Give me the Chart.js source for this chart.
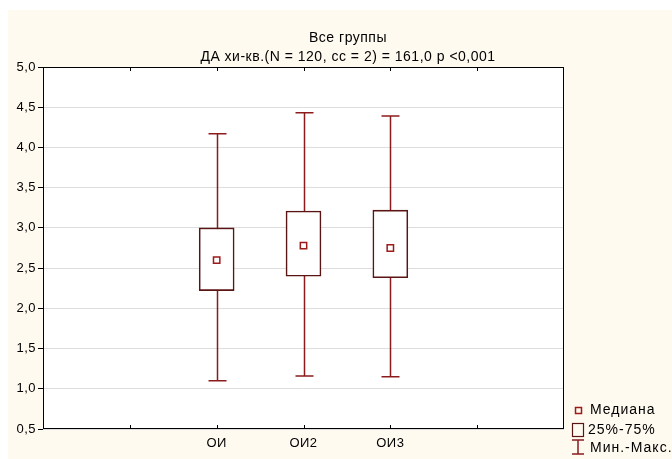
<!DOCTYPE html>
<html>
<head>
<meta charset="utf-8">
<script src="https://cdn.jsdelivr.net/npm/chart.js@4.4.1/dist/chart.umd.min.js"></script>
<style>
    html, body { margin: 0; padding: 0; background: #ffffff; }
    #wrap { width: 672px; height: 459px; }
</style>
</head>
<body>
<div id="wrap"><canvas id="box-chart" width="672" height="459"></canvas></div>
<script>
// Box plot data
const categories = ['ОИ', 'ОИ2', 'ОИ3'];
const positions = [2, 3, 4];
const minValues = [1.10, 1.16, 1.15];
const q1Values = [2.22, 2.40, 2.38];
const medianValues = [2.60, 2.78, 2.75];
const q3Values = [3.00, 3.21, 3.22];
const maxValues = [4.17, 4.43, 4.39];

const titleLines = ['Все группы', 'ДА хи-кв.(N = 120, сс = 2) = 161,0 p <0,001'];
const legendLabels = ['Медиана', '25%-75%', 'Мин.-Макс.'];

const FONT = '"Liberation Sans", Arial, sans-serif';
const CREAM = '#fffaf0';
const WHISKER = '#8c1c1c';
const BOX_EDGE = '#5a1414';

// Background, whiskers, frame, title and legend
const decorPlugin = {
    id: 'decor',
    beforeDraw: function(chart) {
        const ctx = chart.ctx;
        const area = chart.chartArea;
        ctx.save();
        ctx.fillStyle = '#ffffff';
        ctx.fillRect(0, 0, chart.width, chart.height);
        ctx.fillStyle = CREAM;
        ctx.fillRect(8, 10, chart.width - 8, chart.height - 10);
        ctx.fillStyle = '#ffffff';
        ctx.fillRect(area.left, area.top, area.right - area.left, area.bottom - area.top);
        ctx.restore();
        // the old Windows fonts are a bit wider than Liberation Sans
        ctx.letterSpacing = '0.5px';
    },
    beforeDatasetsDraw: function(chart) {
        const ctx = chart.ctx;
        const xs = chart.scales.x;
        const ys = chart.scales.y;
        ctx.save();
        ctx.strokeStyle = WHISKER;
        ctx.lineWidth = 1.5;
        positions.forEach(function(p, i) {
            const x = Math.round(xs.getPixelForValue(p)) + 0.5;
            const yMin = ys.getPixelForValue(minValues[i]);
            const yMax = ys.getPixelForValue(maxValues[i]);
            ctx.beginPath();
            ctx.moveTo(x, yMin);
            ctx.lineTo(x, yMax);
            ctx.moveTo(x - 9, yMin);
            ctx.lineTo(x + 9, yMin);
            ctx.moveTo(x - 9, yMax);
            ctx.lineTo(x + 9, yMax);
            ctx.stroke();
        });
        ctx.restore();
    },
    afterDraw: function(chart) {
        const ctx = chart.ctx;
        const area = chart.chartArea;
        const xs = chart.scales.x;
        ctx.save();

        // plot frame with inward ticks
        ctx.strokeStyle = '#000000';
        ctx.lineWidth = 1;
        ctx.strokeRect(area.left + 0.5, area.top + 0.5, area.right - area.left - 1, area.bottom - area.top - 1);
        ctx.beginPath();
        for (let v = 1; v < 6; v++) {
            const x = Math.round(xs.getPixelForValue(v)) + 0.5;
            ctx.moveTo(x, area.bottom);
            ctx.lineTo(x, area.bottom - 4);
            ctx.moveTo(x, area.top);
            ctx.lineTo(x, area.top + 4);
        }
        ctx.stroke();

        // title
        ctx.fillStyle = '#000000';
        ctx.font = '14px ' + FONT;
        ctx.letterSpacing = '0.5px';
        ctx.textAlign = 'center';
        ctx.textBaseline = 'middle';
        ctx.fillText(titleLines[0], 348, 38);
        ctx.fillText(titleLines[1], 348, 57);

        // legend
        ctx.textAlign = 'left';
        ctx.font = '14px ' + FONT;
        ctx.letterSpacing = '1px';
        ctx.fillText(legendLabels[0], 590, 410);
        ctx.fillText(legendLabels[1], 588, 430);
        ctx.fillText(legendLabels[2], 590, 448);

        ctx.strokeStyle = '#9b1b1b';
        ctx.lineWidth = 1.5;
        ctx.strokeRect(575.5, 407.5, 6, 6);
        ctx.strokeStyle = BOX_EDGE;
        ctx.lineWidth = 1.2;
        ctx.strokeRect(572.5, 423.5, 11, 13);
        ctx.strokeStyle = WHISKER;
        ctx.lineWidth = 1.5;
        ctx.beginPath();
        ctx.moveTo(578, 440);
        ctx.lineTo(578, 454);
        ctx.moveTo(572, 440);
        ctx.lineTo(584, 440);
        ctx.moveTo(572, 454);
        ctx.lineTo(584, 454);
        ctx.stroke();

        ctx.restore();
    }
};

const ctx = document.getElementById('box-chart').getContext('2d');
new Chart(ctx, {
    type: 'bar',
    data: {
        datasets: [
            {
                type: 'scatter',
                label: legendLabels[0],
                data: positions.map(function(p, i) { return { x: p, y: medianValues[i] }; }),
                pointStyle: 'rect',
                pointRadius: 4.5,
                pointBorderWidth: 1.5,
                pointBorderColor: '#9b1b1b',
                pointBackgroundColor: '#ffffff',
                order: 0
            },
            {
                type: 'bar',
                label: legendLabels[1],
                data: positions.map(function(p, i) { return { x: p, y: [q1Values[i], q3Values[i]] }; }),
                backgroundColor: '#ffffff',
                borderColor: BOX_EDGE,
                borderWidth: 1.6,
                borderSkipped: false,
                barThickness: 35,
                order: 1
            }
        ]
    },
    options: {
        responsive: false,
        animation: false,
        layout: {
            padding: { left: 8, right: 108, top: 67, bottom: 0 }
        },
        plugins: {
            legend: { display: false },
            tooltip: { enabled: false },
            title: { display: false }
        },
        scales: {
            x: {
                type: 'linear',
                min: 0,
                max: 6,
                offset: false,
                afterFit: function(scale) { scale.height = 30; },
                grid: { display: true, drawOnChartArea: false, drawTicks: false, color: 'rgba(0,0,0,0)' },
                border: { display: false },
                ticks: {
                    stepSize: 1,
                    autoSkip: false,
                    maxRotation: 0,
                    padding: 7,
                    color: '#000000',
                    font: { family: FONT, size: 13 },
                    callback: function(value) {
                        const i = positions.indexOf(value);
                        return i >= 0 ? categories[i] : '';
                    }
                }
            },
            y: {
                min: 0.5,
                max: 5.0,
                afterFit: function(scale) { scale.width = 35; },
                grid: { color: '#dddddd', lineWidth: 1, tickColor: '#000000', tickLength: 5 },
                border: { display: false },
                ticks: {
                    stepSize: 0.5,
                    padding: 2,
                    color: '#000000',
                    font: { family: FONT, size: 13 },
                    callback: function(value) {
                        return value.toFixed(1).replace('.', ',');
                    }
                }
            }
        }
    },
    plugins: [decorPlugin]
});
</script>
</body>
</html>
